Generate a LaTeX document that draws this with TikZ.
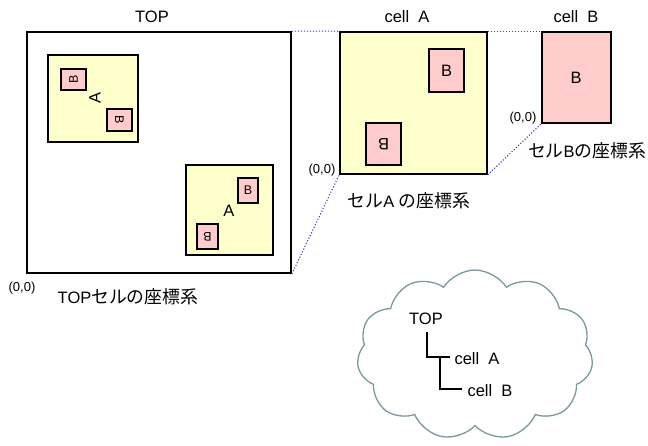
\documentclass[tikz,border=0pt]{standalone}
\usepackage{fontspec}
\setmainfont{Liberation Sans}
\newfontfamily\jp[Scale=1.08]{Noto Sans CJK JP}
\usetikzlibrary{shapes.symbols}
\definecolor{cellyel}{RGB}{255,255,204}
\definecolor{cellpink}{RGB}{255,204,204}
\definecolor{dotblue}{RGB}{60,60,190}
\definecolor{cloudgray}{RGB}{122,152,158}
\tikzset{
  box/.style={draw=black, line width=1.6pt, inner sep=0pt, anchor=center},
  abox/.style={box, fill=cellyel},
  bbox/.style={box, fill=cellpink, line width=1.4pt},
  big/.style={font=\fontsize{16.5}{19}\selectfont, inner sep=0pt},
  small/.style={font=\fontsize{12.5}{14}\selectfont, inner sep=0pt},
  tiny/.style={font=\fontsize{13}{15}\selectfont, inner sep=0pt},
  cjk/.style={font=\fontsize{16.5}{19}\selectfont, inner sep=0pt},
  link/.style={draw=dotblue, dash pattern=on 1.1pt off 1.9pt, line width=1.1pt},
  treeline/.style={draw=black, line width=1.6pt},
}
\begin{document}
\begin{tikzpicture}[x=1pt,y=-1pt]
\useasboundingbox[fill=white] (0,0) rectangle (648,445);

% TOP
\node[box, line width=1.8pt, minimum width=264pt, minimum height=241pt] (topbox) at (159,152.5) {};
\node[big] (toplbl) at (152,17) {TOP};
% instance 1 (rotated 90)
\node[abox, minimum width=90pt, minimum height=87pt] (a1) at (93,98.5) {};
\node[big, rotate=90] (a1lbl) at (95,98) {A};
\node[bbox, minimum width=25pt, minimum height=21pt] (a1b1) at (73.5,79.5) {};
\node[small, rotate=90] (a1b1l) at (a1b1) {B};
\node[bbox, minimum width=25pt, minimum height=22pt] (a1b2) at (119.5,120) {};
\node[small, rotate=-90] (a1b2l) at (a1b2) {B};
% instance 2 (R0)
\node[abox, minimum width=87pt, minimum height=90pt] (a2) at (229.5,210) {};
\node[big] (a2lbl) at (229,211) {A};
\node[bbox, minimum width=20pt, minimum height=25pt] (a2b1) at (248,190.5) {};
\node[small] (a2b1l) at (a2b1) {B};
\node[bbox, minimum width=21pt, minimum height=25pt] (a2b2) at (207.5,236.5) {};
\node[small, rotate=180] (a2b2l) at (a2b2) {B};
\node[tiny] (top00) at (22,288) {(0,0)};
\node[cjk] (topcs) at (128,297) {TOP{\jp セルの座標系}};

% cell A
\node[abox, minimum width=147pt, minimum height=142pt] (cella) at (413.5,103) {};
\node[big] (cellalbl) at (407,17) {cell\ \ A};
\node[bbox, minimum width=35pt, minimum height=43pt] (cab1) at (446.5,70.5) {};
\node[big] (cab1l) at (cab1) {B};
\node[bbox, minimum width=35pt, minimum height=42pt] (cab2) at (383.5,144) {};
\node[big, rotate=180] (cab2l) at (cab2) {B};
\node[tiny] (ca00) at (322,170) {(0,0)};
\node[cjk] (cacs) at (409,201) {{\jp セル}A {\jp の座標系}};

% cell B
\node[bbox, line width=1.6pt, minimum width=69pt, minimum height=91pt] (cellb) at (576.5,77.5) {};
\node[big] (cellbl) at (576,78) {B};
\node[big] (cellblbl) at (576,17) {cell\ \ B};
\node[tiny] (cb00) at (523,118) {(0,0)};
\node[cjk] (cbcs) at (587,151) {{\jp セル}B{\jp の座標系}};

% links
\draw[link] (topbox.north east) -- (cella.north west);
\draw[link] (topbox.south east) -- (cella.south west);
\draw[link] (cella.north east) -- (cellb.north west);
\draw[link] (cella.south east) -- (cellb.south west);

% cloud
\node[cloud, draw=cloudgray, line width=1.3pt, cloud puffs=11, cloud puff arc=115, aspect=1.4,
      minimum width=236pt, minimum height=170pt, inner sep=0pt] (cloud) at (475,355) {};
\node[big] (ttop) at (426,319) {TOP};
\node[big] (tcella) at (477,359) {cell\ \ A};
\node[big] (tcellb) at (490,391) {cell\ \ B};
\coordinate (t1) at (427,332);
\coordinate (t2) at (427,357);
\coordinate (t3) at (450,357);
\coordinate (t4) at (440,357);
\coordinate (t5) at (440,389);
\coordinate (t6) at (462,389);
\draw[treeline] (t1) -- (t2) -- (t3);
\draw[treeline] (t4) -- (t5) -- (t6);
\end{tikzpicture}
\end{document}
